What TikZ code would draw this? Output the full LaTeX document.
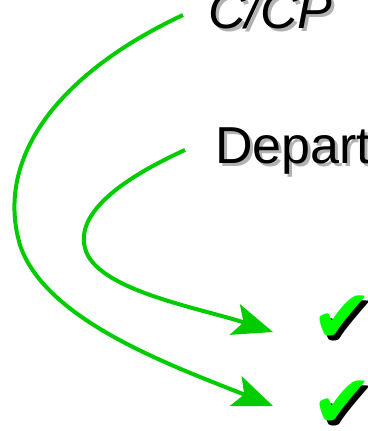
\documentclass[tikz,border=0pt]{standalone}
\usepackage{fontspec}
\setmainfont{Liberation Sans}
\newfontfamily\symfont{DejaVu Sans}
\usetikzlibrary{arrows.meta}
\definecolor{arrowgreen}{RGB}{0,204,0}
\definecolor{tickgreen}{RGB}{0,255,0}
\tikzset{
  title/.style={font=\fontsize{52}{56}\selectfont,anchor=base west,inner sep=0pt},
  shade text/.style={text=black!30},
  flow/.style={line width=4pt,arrowgreen,-{Stealth[length=40pt,width=32pt,inset=9pt]}},
  tick/.style={font=\symfont\fontsize{74}{74}\selectfont,inner sep=0pt,anchor=west}
}
\begin{document}
\begin{tikzpicture}[x=1pt,y=-1pt]
\useasboundingbox (0,0) rectangle (367,431);
\clip (0,0) rectangle (367,431);
% headings with soft shadow
\node[title,shade text] at (211,31) {\itshape C/CP};
\node[title] (ccp) at (208,28) {\itshape C/CP};
\node[title,shade text] at (218,166) {Depart};
\node[title] (dep) at (215,163) {Depart};
% ticks
\node[tick,text=black] at (315,324) {✔};
\node[tick,text=tickgreen] (tickA) at (311,319) {✔};
\node[tick,text=black] at (315,409) {✔};
\node[tick,text=tickgreen] (tickB) at (311,404) {✔};
% arrows
\coordinate (ccpend) at (183,15);
\coordinate (depend) at (185,150);
\coordinate (tipA) at (273,332);
\coordinate (tipB) at (273,406);
\draw[flow] (ccpend) .. controls (55,75) and (-5,160) .. (20,245)
  .. controls (45,320) and (170,365) .. (tipB);
\draw[flow] (depend) .. controls (130,175) and (75,210) .. (85,248)
  .. controls (95,290) and (200,308) .. (tipA);
\end{tikzpicture}
\end{document}
